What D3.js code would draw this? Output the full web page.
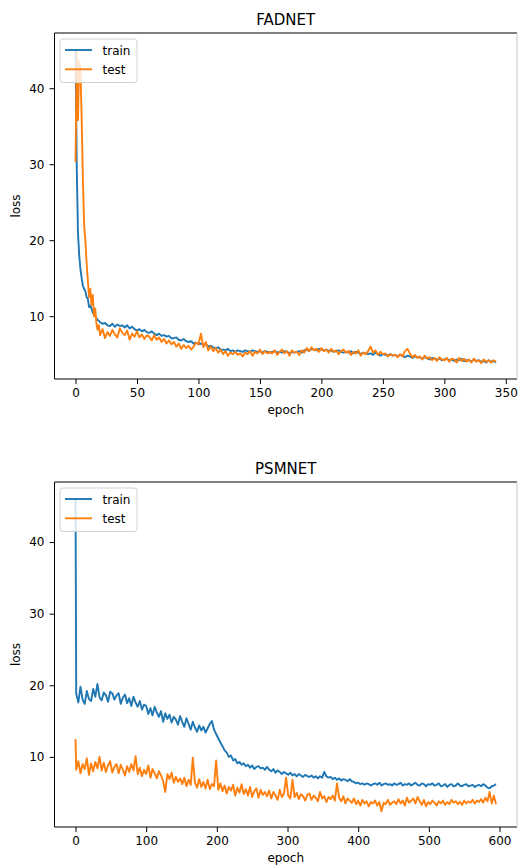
<!DOCTYPE html>
<html>
<head>
<meta charset="utf-8">
<script src="https://cdn.jsdelivr.net/npm/d3@7"></script>
<style>
  html, body { margin: 0; padding: 0; background: #fff; }
  svg { display: block; }
  text { font-family: "DejaVu Sans", sans-serif; fill: #000; }
</style>
</head>
<body>
<svg id="chart" width="518" height="866"></svg>
<script>
// ---------- DATA ----------
const seriesNames = ["train", "test"];
const panelTitles = ["FADNET", "PSMNET"];
const xLabel = "epoch";
const yLabel = "loss";

// FADNET: epochs 0..19 every epoch, then every 2nd epoch to 342
const fadEpochs = d3.range(0, 20).concat(d3.range(20, 343, 2));
const fadTrain = [
  45.2, 29.5, 21.0, 18.0, 16.2, 15.0, 14.0, 13.6, 13.3, 12.5,
  12.3, 11.2, 11.4, 11.0, 10.5, 10.2, 10.0, 9.7, 9.5, 9.4,
  9.2, 9.0, 9.1, 8.8, 8.7, 9.0, 8.6, 8.9, 8.7, 8.8,
  8.5, 8.8, 8.4, 8.6, 8.3, 8.1, 8.3, 8.0, 8.2, 7.9,
  7.8, 8.0, 7.7, 7.5, 7.7, 7.4, 7.5, 7.3, 7.4, 7.1,
  7.1, 7.2, 6.9, 6.8, 7.0, 6.7, 6.6, 6.7, 6.4, 6.5,
  6.3, 6.4, 6.2, 6.3, 6.0, 6.1, 5.9, 5.8, 5.9, 5.6,
  5.6, 5.5, 5.7, 5.4, 5.5, 5.3, 5.5, 5.4, 5.3, 5.5,
  5.4, 5.3, 5.5, 5.4, 5.3, 5.4, 5.2, 5.4, 5.3, 5.2,
  5.3, 5.4, 5.2, 5.3, 5.2, 5.4, 5.3, 5.1, 5.3, 5.2,
  5.3, 5.4, 5.2, 5.5, 5.6, 5.4, 5.7, 5.6, 5.5, 5.7,
  5.6, 5.5, 5.6, 5.4, 5.5, 5.3, 5.4, 5.5, 5.3, 5.2,
  5.3, 5.2, 5.4, 5.1, 5.3, 5.2, 5.0, 5.2, 5.1, 5.0,
  5.1, 4.9, 5.2, 5.0, 4.8, 5.0, 4.9, 4.8, 5.0, 4.8,
  4.9, 4.7, 4.9, 4.8, 4.6, 4.8, 4.7, 4.5, 4.7, 4.6,
  4.6, 4.4, 4.6, 4.5, 4.3, 4.5, 4.4, 4.3, 4.4, 4.2,
  4.3, 4.4, 4.2, 4.3, 4.1, 4.3, 4.2, 4.4, 4.1, 4.2,
  4.2, 4.0, 4.3, 4.1, 4.2, 4.0, 4.1, 3.9, 4.2, 4.0,
  4.1, 3.9
];
const fadTest = [
  30.3, 44.8, 35.8, 43.6, 42.5, 36.0, 28.0, 22.0, 20.0, 17.0,
  14.8, 12.5, 13.6, 11.5, 12.8, 10.0, 11.0, 9.0, 8.2, 8.8,
  7.5, 8.3, 7.1, 7.9, 7.4, 8.2, 7.6, 7.2, 8.4, 7.8,
  7.5, 8.1, 6.9, 7.7, 7.3, 8.0, 7.2, 7.6, 7.0, 7.5,
  7.3, 6.8, 7.5, 6.9, 7.2, 6.6, 7.0, 6.4, 6.8, 6.3,
  6.6, 6.0, 6.4, 5.7, 6.2, 5.8, 6.1, 5.6, 6.0, 6.5,
  6.3, 7.7, 5.9, 6.6, 5.5, 6.0, 5.4, 5.8, 5.2, 5.6,
  5.0, 5.4, 4.8, 5.2, 5.0, 5.3, 4.9, 5.1, 4.7, 5.2,
  5.0, 5.4, 4.8, 5.3, 5.1, 5.6, 5.0, 5.4, 5.1, 5.3,
  5.1, 5.5, 4.9, 5.3, 5.6, 5.1, 5.4, 4.8, 5.5, 5.2,
  5.3, 4.9, 5.5, 5.2, 5.8, 5.4, 5.9, 5.5, 5.7, 5.3,
  5.8, 5.4, 5.6, 5.2, 5.7, 5.3, 5.5, 5.0, 5.4, 5.6,
  5.2, 5.4, 4.9, 5.3, 5.1, 5.5, 4.8, 5.2, 5.0, 5.4,
  6.0, 5.2, 5.5, 4.9, 5.3, 5.0, 5.1, 4.7, 5.0, 4.8,
  4.9, 4.6, 5.0, 4.7, 5.4, 5.7, 5.1, 4.6, 4.9, 4.5,
  4.7, 4.3, 4.8, 4.4, 4.6, 4.2, 4.5, 4.1, 4.6, 4.3,
  4.2, 4.5, 4.0, 4.4, 4.3, 3.9, 4.5, 4.1, 4.4, 4.0,
  4.3, 3.9, 4.4, 4.0, 4.2, 3.8, 4.3, 4.0, 4.2, 3.9,
  4.2, 4.0
];

// PSMNET: epoch 0, then every 3rd epoch from 1 to 595
const psmEpochs = [0].concat(d3.range(1, 598, 3));
const psmTrain = [
  46.2,
  18.8, 17.6, 19.8, 18.0, 17.4, 19.2, 18.1, 17.8, 19.5, 18.4,
  20.2, 18.3, 17.9, 19.0, 18.6, 17.7, 19.1, 18.9, 18.0, 18.6,
  18.9, 17.4, 18.3, 18.7, 17.5, 18.2, 17.1, 18.4, 17.6, 17.0,
  17.8, 16.6, 17.3, 17.1, 16.0, 16.8, 15.8, 17.0, 16.2, 15.6,
  16.4, 14.9, 16.1, 15.3, 15.9, 14.8, 15.6, 15.2, 14.5, 15.7,
  14.9, 14.2, 15.4, 14.6, 13.8, 14.9, 14.1, 13.5, 14.4, 13.7,
  14.2, 13.4, 14.0, 14.6, 15.0, 13.8, 13.2, 12.6, 12.0, 11.5,
  10.9, 10.6, 10.0, 10.2, 9.5, 9.7, 9.1, 9.3, 8.9, 9.1,
  8.7, 8.9, 8.5, 8.8, 8.3, 8.6, 8.7, 8.4, 8.5, 8.2,
  8.6, 8.2, 8.0, 8.3, 7.8, 8.1, 7.9, 7.6, 7.9, 7.7,
  7.5, 7.8, 7.4, 7.6, 7.3, 7.6, 7.4, 7.2, 7.5, 7.3,
  7.2, 7.4, 7.1, 7.3, 7.0, 7.3, 7.1, 7.9, 7.3, 7.1,
  7.2, 6.9, 7.1, 6.8, 7.0, 6.7, 6.9, 6.8, 6.6, 6.9,
  6.6, 6.5, 6.3, 6.4, 6.2, 6.3, 6.1, 6.3, 6.2, 6.0,
  6.2, 6.3, 6.1, 6.4, 6.0, 6.2, 6.3, 6.1, 6.2, 6.0,
  6.3, 6.1, 6.2, 6.4, 6.0, 6.2, 6.1, 6.3, 6.0, 6.2,
  6.4, 6.1, 6.0, 6.3, 6.2, 5.9, 6.2, 6.1, 6.3, 6.0,
  6.1, 6.3, 5.9, 6.0, 6.2, 5.8, 6.1, 6.2, 5.9, 6.0,
  6.3, 6.0, 5.9, 6.1, 6.2, 5.9, 6.0, 6.1, 5.8, 6.0,
  6.1, 5.9, 6.2, 6.0, 5.7, 5.6, 5.9, 6.0, 6.2
];
const psmTest = [
  12.5,
  8.2, 9.4, 7.7, 9.0, 8.3, 9.8, 7.5, 9.1, 8.0, 9.3,
  8.4, 10.0, 8.1, 9.2, 7.9, 8.8, 9.4, 7.8, 8.6, 9.0,
  7.7, 8.9, 8.2, 7.4, 8.7, 7.9, 9.0, 8.1, 10.1, 7.6,
  8.5, 7.3, 8.2, 7.6, 8.8, 7.1, 8.3, 7.7, 7.0, 8.0,
  7.4, 6.6, 5.1, 7.6, 6.9, 7.8, 6.4, 7.2, 6.5, 7.0,
  6.2, 7.1, 5.9, 6.8, 6.1, 9.9, 6.4, 5.7, 6.9, 5.8,
  6.5, 5.6, 6.8, 5.5, 6.2, 5.9, 9.5, 5.4, 6.3, 5.2,
  6.0, 4.9, 5.8, 5.3, 6.1, 4.6, 5.7, 5.0, 6.2, 4.8,
  5.5, 4.6, 5.8, 4.4, 5.2, 5.6, 4.3, 5.4, 4.7, 5.1,
  4.5, 5.3, 4.2, 5.1, 4.6, 4.0, 5.4, 4.4, 4.9, 7.1,
  4.6, 4.2, 6.8, 4.4, 5.0, 4.1, 4.8, 4.5, 3.9, 4.7,
  4.9, 4.0, 4.6, 4.3, 3.8, 5.1, 4.2, 4.5, 3.7, 4.4,
  4.1, 4.6, 3.9, 6.3, 4.3, 3.8, 4.5, 3.5, 4.2, 3.9,
  3.6, 4.2, 3.4, 3.9, 3.2, 4.0, 3.5, 3.8, 3.1, 3.7,
  3.5, 3.9, 3.2, 3.7, 2.4, 3.6, 3.4, 4.0, 3.3, 3.6,
  3.8, 3.4, 4.1, 3.5, 3.9, 3.2, 4.3, 3.6, 3.9, 4.2,
  3.5, 4.4, 3.8, 3.3, 4.0, 3.1, 3.7, 3.4, 3.9, 3.6,
  3.2, 3.8, 3.5, 3.9, 3.3, 3.7, 3.4, 4.0, 3.6, 3.8,
  3.4, 3.7, 3.3, 3.9, 3.5, 3.8, 3.6, 4.0, 3.5, 3.9,
  3.7, 4.1, 3.6, 4.3, 3.8, 5.1, 3.5, 4.6, 3.4
];

const fadXTicks = [0, 50, 100, 150, 200, 250, 300, 350];
const psmXTicks = [0, 100, 200, 300, 400, 500, 600];
const yTicks = [10, 20, 30, 40];

const colors = ["#1f77b4", "#ff7f0e"];

// ---------- DRAW ----------
const svg = d3.select("#chart");
const L = 54.5, R = 517;

const panels = [
  { title: panelTitles[0], top: 33, bottom: 379, epochs: fadEpochs, series: [fadTrain, fadTest], xTicks: fadXTicks },
  { title: panelTitles[1], top: 482, bottom: 827, epochs: psmEpochs, series: [psmTrain, psmTest], xTicks: psmXTicks }
];

function padded(ext) {
  const r = ext[1] - ext[0];
  return [ext[0] - 0.05 * r, ext[1] + 0.05 * r];
}

panels.forEach(p => {
  const g = svg.append("g");
  const x = d3.scaleLinear().domain(padded(d3.extent(p.epochs))).range([L, R]);
  const allY = p.series[0].concat(p.series[1]);
  const y = d3.scaleLinear().domain(padded(d3.extent(allY))).range([p.bottom, p.top]);

  const line = d3.line().x(d => x(d[0])).y(d => y(d[1]));

  p.series.forEach((s, si) => {
    const pts = p.epochs.map((e, i) => [e, s[i]]).filter(d => d[1] !== undefined);
    g.append("path")
      .datum(pts)
      .attr("d", line)
      .attr("fill", "none")
      .attr("stroke", colors[si])
      .attr("stroke-width", 1.9)
      .attr("stroke-linejoin", "round");
  });

  // spines
  g.append("line").attr("x1", L).attr("x2", L).attr("y1", p.top).attr("y2", p.bottom).attr("stroke", "#000").attr("stroke-width", 1);
  g.append("line").attr("x1", L).attr("x2", R).attr("y1", p.bottom).attr("y2", p.bottom).attr("stroke", "#000").attr("stroke-width", 1);
  g.append("line").attr("x1", L).attr("x2", R).attr("y1", p.top).attr("y2", p.top).attr("stroke", "#000").attr("stroke-width", 1);
  g.append("line").attr("x1", R).attr("x2", R).attr("y1", p.top).attr("y2", p.bottom).attr("stroke", "#c8c8c8").attr("stroke-width", 1);

  // axes
  const xAxis = d3.axisBottom(x).tickValues(p.xTicks).tickSize(5).tickPadding(4).tickFormat(d3.format("d"));
  const gx = g.append("g").attr("transform", `translate(0,${p.bottom})`).call(xAxis);
  gx.select(".domain").remove();
  gx.selectAll("text").attr("font-size", 12).attr("font-family", "DejaVu Sans").attr("fill", "#000");
  gx.selectAll("line").attr("stroke", "#000");

  const yAxis = d3.axisLeft(y).tickValues(yTicks).tickSize(5).tickPadding(5).tickFormat(d3.format("d"));
  const gy = g.append("g").attr("transform", `translate(${L},0)`).call(yAxis);
  gy.select(".domain").remove();
  gy.selectAll("text").attr("font-size", 12).attr("font-family", "DejaVu Sans").attr("fill", "#000");
  gy.selectAll("line").attr("stroke", "#000");

  // title
  g.append("text").attr("x", (L + R) / 2).attr("y", p.top - 8.5)
    .attr("text-anchor", "middle").attr("font-size", 15).text(p.title);
  // x label
  g.append("text").attr("x", (L + R) / 2).attr("y", p.bottom + 35)
    .attr("text-anchor", "middle").attr("font-size", 12).text(xLabel);
  // y label
  g.append("text").attr("transform", `translate(20,${(p.top + p.bottom) / 2}) rotate(-90)`)
    .attr("text-anchor", "middle").attr("font-size", 12).text(yLabel);

  // legend
  const lg = g.append("g").attr("transform", `translate(60,${p.top + 6})`);
  lg.append("rect").attr("x", 0).attr("y", 0).attr("width", 77).attr("height", 43.5)
    .attr("rx", 3).attr("fill", "#fff").attr("fill-opacity", 0.8).attr("stroke", "#d0d0d0");
  seriesNames.forEach((nm, i) => {
    const ly = 11 + i * 19.3;
    lg.append("line").attr("x1", 5).attr("x2", 32).attr("y1", ly).attr("y2", ly)
      .attr("stroke", colors[i]).attr("stroke-width", 1.9);
    lg.append("text").attr("x", 42.5).attr("y", ly + 4.5).attr("font-size", 12).text(nm);
  });
});
</script>
</body>
</html>
